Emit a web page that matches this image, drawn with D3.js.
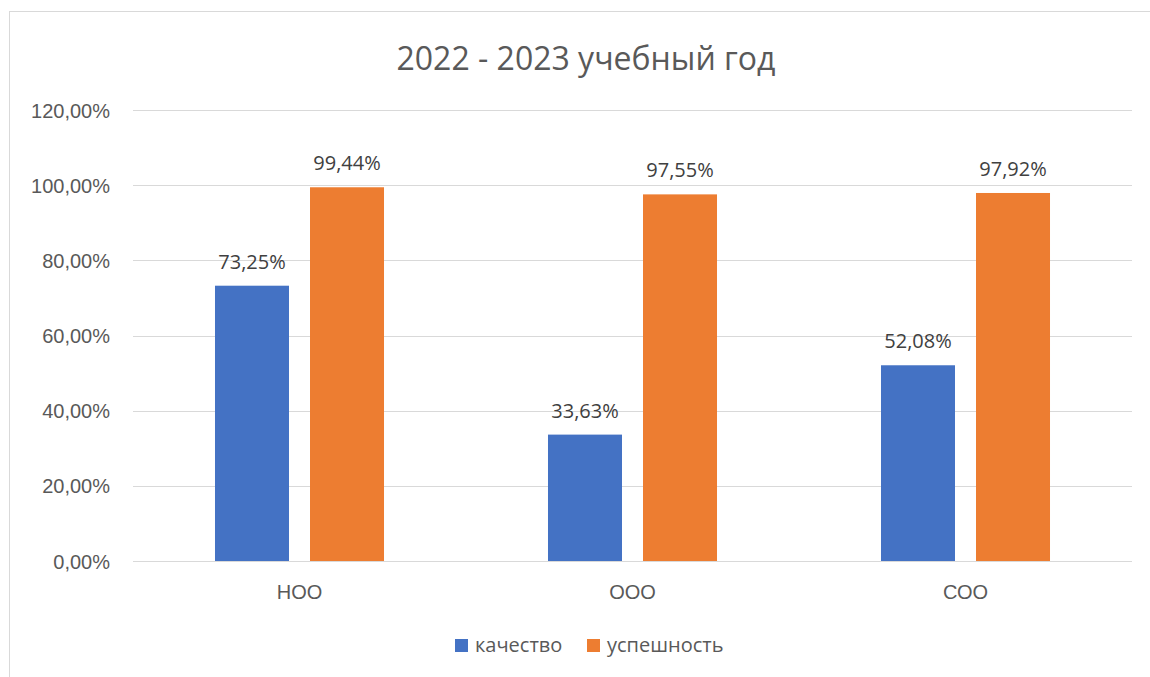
<!DOCTYPE html>
<html lang="ru">
<head>
<meta charset="UTF-8">
<title>2022 - 2023 учебный год</title>
<script src="https://d3js.org/d3.v7.min.js"></script>
<style>
  body { margin: 0; background: #fff; }
  svg { display: block; font-family: "Open Sans", "Liberation Sans", sans-serif; }
  .tick text { fill: #595959; font-size: 20px; }
</style>
</head>
<body>
<svg width="1150" height="677"></svg>
<script>
const categories = ["НОО", "ООО", "СОО"];
const series = ["качество", "успешность"];
const kachestvo = [73.25, 33.63, 52.08];
const uspeshnost = [99.44, 97.55, 97.92];
const yTicks = [0, 20, 40, 60, 80, 100, 120];
const colors = ["#4472C4", "#ED7D31"];

const values = [kachestvo, uspeshnost];
const fmt = v => v.toFixed(2).replace(".", ",") + "%";

const svg = d3.select("svg");
const textColor = "#595959";

// рамка области диаграммы
svg.append("rect")
  .attr("x", 9.5).attr("y", 11.5)
  .attr("width", 1150).attr("height", 700)
  .attr("fill", "none").attr("stroke", "#d9d9d9");

const plotLeft = 133, plotRight = 1132, plotTop = 110, plotBottom = 561;

const y = d3.scaleLinear().domain([0, 120]).range([plotBottom, plotTop]);
const x0 = d3.scaleBand().domain(categories).range([plotLeft, plotRight]);
const x1 = d3.scaleBand().domain(series).range([0, x0.bandwidth()])
  .paddingInner(0.221).paddingOuter(0.863);

// сетка
svg.append("g").selectAll("line")
  .data(yTicks)
  .join("line")
  .attr("x1", plotLeft).attr("x2", plotRight)
  .attr("y1", d => Math.round(y(d)) + 0.5).attr("y2", d => Math.round(y(d)) + 0.5)
  .attr("stroke", "#d9d9d9").attr("stroke-width", 1.2);

// ось Y
const yAxis = svg.append("g")
  .attr("transform", `translate(${plotLeft - 23},0)`)
  .call(d3.axisLeft(y).tickValues(yTicks).tickSize(0).tickPadding(0)
    .tickFormat(d => d.toFixed(2).replace(".", ",") + "%"));
yAxis.select(".domain").remove();
yAxis.selectAll("text").attr("dy", "0.35em");

// ось X
const xAxis = svg.append("g")
  .attr("transform", `translate(0,${plotBottom})`)
  .call(d3.axisBottom(x0).tickSize(0).tickPadding(24));
xAxis.select(".domain").remove();

// столбцы
const groups = svg.append("g").selectAll("g")
  .data(categories)
  .join("g")
  .attr("transform", d => `translate(${x0(d)},0)`);

groups.selectAll("rect")
  .data((c, i) => series.map((s, j) => ({ s, j, v: values[j][i] })))
  .join("rect")
  .attr("x", d => x1(d.s))
  .attr("y", d => y(d.v))
  .attr("width", x1.bandwidth())
  .attr("height", d => plotBottom - y(d.v))
  .attr("fill", d => colors[d.j]);

groups.selectAll("text")
  .data((c, i) => series.map((s, j) => ({ s, j, v: values[j][i] })))
  .join("text")
  .attr("x", d => x1(d.s) + x1.bandwidth() / 2)
  .attr("y", d => y(d.v) - 17)
  .attr("text-anchor", "middle")
  .attr("fill", "#404040")
  .attr("font-size", 20)
  .text(d => fmt(d.v));

// заголовок
svg.append("text")
  .attr("x", 586).attr("y", 70)
  .attr("text-anchor", "middle")
  .attr("fill", textColor)
  .attr("font-size", 32)
  .text("2022 - 2023 учебный год");

// легенда
const legend = svg.append("g").attr("transform", "translate(455,639)");
const legendX = [0, 132];
series.forEach((s, j) => {
  const g = legend.append("g").attr("transform", `translate(${legendX[j]},0)`);
  g.append("rect").attr("width", 13).attr("height", 13).attr("fill", colors[j]);
  g.append("text").attr("x", 20).attr("y", 13)
    .attr("fill", textColor).attr("font-size", 20).text(s);
});
</script>
</body>
</html>
